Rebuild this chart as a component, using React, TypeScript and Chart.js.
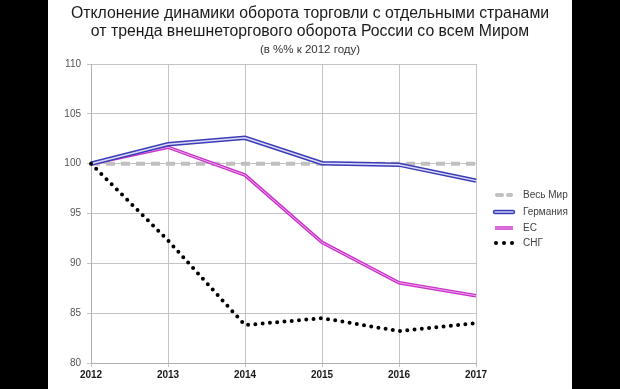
import React, { useEffect, useRef } from "react";
import { Chart, registerables } from "chart.js";
Chart.register(...registerables);

const years = ["2012", "2013", "2014", "2015", "2016", "2017"];
const world = [100, 100, 100, 100, 100, 100];
const germany = [100, 101.95, 102.6, 100.05, 99.9, 98.3];
const eu = [100, 101.65, 98.85, 92.1, 88.05, 86.75];
const cis = [100, 92.3, 83.8, 84.5, 83.2, 84.0];
const seriesNames = ["Весь Мир", "Германия", "ЕС", "СНГ"];
const titleLines = [
  "Отклонение динамики оборота торговли с отдельными странами",
  "от тренда внешнеторгового оборота России со всем Миром",
];
const subtitleText = "(в %% к 2012 году)";

const FONT = "'Liberation Sans', Arial, sans-serif";

const titlePlugin = {
  id: "customTitle",
  afterDraw(chart: any) {
    const ctx = chart.ctx;
    const cx = chart.width / 2;
    ctx.save();
    ctx.textAlign = "center";
    ctx.textBaseline = "alphabetic";
    ctx.fillStyle = "#1a1a1a";
    ctx.font = `15.8px ${FONT}`;
    ctx.fillText(titleLines[0], cx, 17.5);
    ctx.fillText(titleLines[1], cx, 36);
    ctx.fillStyle = "#333333";
    ctx.font = `11.5px ${FONT}`;
    ctx.fillText(subtitleText, cx, 53);
    ctx.restore();
  },
};

const legendPlugin = {
  id: "customLegend",
  afterDraw(chart: any) {
    const ctx = chart.ctx;
    const x0 = chart.chartArea.right + 19;
    const x1 = x0 + 18;
    const tx = x1 + 10;
    const ys = [195, 212, 228, 243];
    ctx.save();
    // Весь Мир
    ctx.lineCap = "round";
    ctx.strokeStyle = "#c0c0c0";
    ctx.lineWidth = 4;
    ctx.beginPath();
    ctx.moveTo(x0 + 2, ys[0]);
    ctx.lineTo(x0 + 7, ys[0]);
    ctx.moveTo(x0 + 13, ys[0]);
    ctx.lineTo(x1 - 2, ys[0]);
    ctx.stroke();
    // Германия
    ctx.strokeStyle = "#3c3cb8";
    ctx.lineWidth = 4.5;
    ctx.lineCap = "round";
    ctx.beginPath();
    ctx.moveTo(x0, ys[1]);
    ctx.lineTo(x1, ys[1]);
    ctx.stroke();
    ctx.strokeStyle = "#c8c8f4";
    ctx.lineWidth = 1.5;
    ctx.beginPath();
    ctx.moveTo(x0, ys[1]);
    ctx.lineTo(x1, ys[1]);
    ctx.stroke();
    // ЕС
    ctx.strokeStyle = "#c832c8";
    ctx.lineWidth = 3.5;
    ctx.lineCap = "butt";
    ctx.beginPath();
    ctx.moveTo(x0, ys[2]);
    ctx.lineTo(x1, ys[2]);
    ctx.stroke();
    ctx.strokeStyle = "#f0a8f0";
    ctx.lineWidth = 1;
    ctx.beginPath();
    ctx.moveTo(x0, ys[2]);
    ctx.lineTo(x1, ys[2]);
    ctx.stroke();
    // СНГ
    ctx.fillStyle = "#000000";
    for (let i = 0; i < 3; i++) {
      ctx.beginPath();
      ctx.arc(x0 + 1 + i * 8, ys[3], 2, 0, Math.PI * 2);
      ctx.fill();
    }
    ctx.fillStyle = "#404040";
    ctx.font = `10px ${FONT}`;
    ctx.textAlign = "left";
    ctx.textBaseline = "middle";
    seriesNames.forEach((n, i) => ctx.fillText(n, tx, ys[i]));
    ctx.restore();
  },
};

export default function App() {
  const ref = useRef<HTMLCanvasElement | null>(null);
  useEffect(() => {
    if (!ref.current) return;
    const common = { pointRadius: 0, pointHoverRadius: 0, tension: 0, fill: false };
    const chart = new Chart(ref.current, {
      type: "line",
      data: {
        labels: years,
        datasets: [
          { ...common, label: seriesNames[0], data: world, borderColor: "#c0c0c0", borderWidth: 4, borderDash: [9, 6], order: 10 },
          { ...common, label: seriesNames[2], data: eu, borderColor: "#c832c8", borderWidth: 3.5, order: 9 },
          { ...common, label: seriesNames[2] + "_inner", data: eu, borderColor: "#f0a8f0", borderWidth: 1, order: 8 },
          { ...common, label: seriesNames[1], data: germany, borderColor: "#3c3cb8", borderWidth: 4.5, order: 7 },
          { ...common, label: seriesNames[1] + "_inner", data: germany, borderColor: "#dcdcf8", borderWidth: 1.5, order: 6 },
          { ...common, label: seriesNames[3], data: cis, borderColor: "#000000", borderWidth: 4, borderDash: [0, 7.3], borderCapStyle: "round", order: 1 },
        ],
      },
      options: {
        responsive: false,
        animation: false,
        events: [],
        layout: { padding: { top: 64, left: 8, right: 96, bottom: 0 } },
        plugins: { legend: { display: false }, title: { display: false }, tooltip: { enabled: false } },
        scales: {
          x: {
            offset: false,
            grid: { color: "#c4c4c4", lineWidth: 1, tickLength: 4 },
            border: { color: "#b0b0b0" },
            ticks: { color: "#1a1a1a", font: { family: FONT, size: 10, weight: "bold" }, padding: 2, maxRotation: 0 },
            afterFit: (s: any) => { s.height = 26; },
          },
          y: {
            min: 80,
            max: 110,
            ticks: { stepSize: 5, color: "#555555", font: { family: FONT, size: 10 }, padding: 6 },
            grid: { color: "#c4c4c4", lineWidth: 1, tickLength: 4 },
            border: { color: "#b0b0b0" },
            afterFit: (s: any) => { s.width = 35; },
          },
        },
      },
      plugins: [titlePlugin, legendPlugin],
    } as any);
    return () => chart.destroy();
  }, []);
  return (
    <div style={{ position: "fixed", left: 0, top: 0, width: 620, height: 389, background: "#000" }}>
      <div style={{ position: "absolute", left: 48, top: 0, width: 524, height: 389, background: "#fff" }}>
        <canvas ref={ref} width={524} height={389} style={{ display: "block" }} />
      </div>
    </div>
  );
}
